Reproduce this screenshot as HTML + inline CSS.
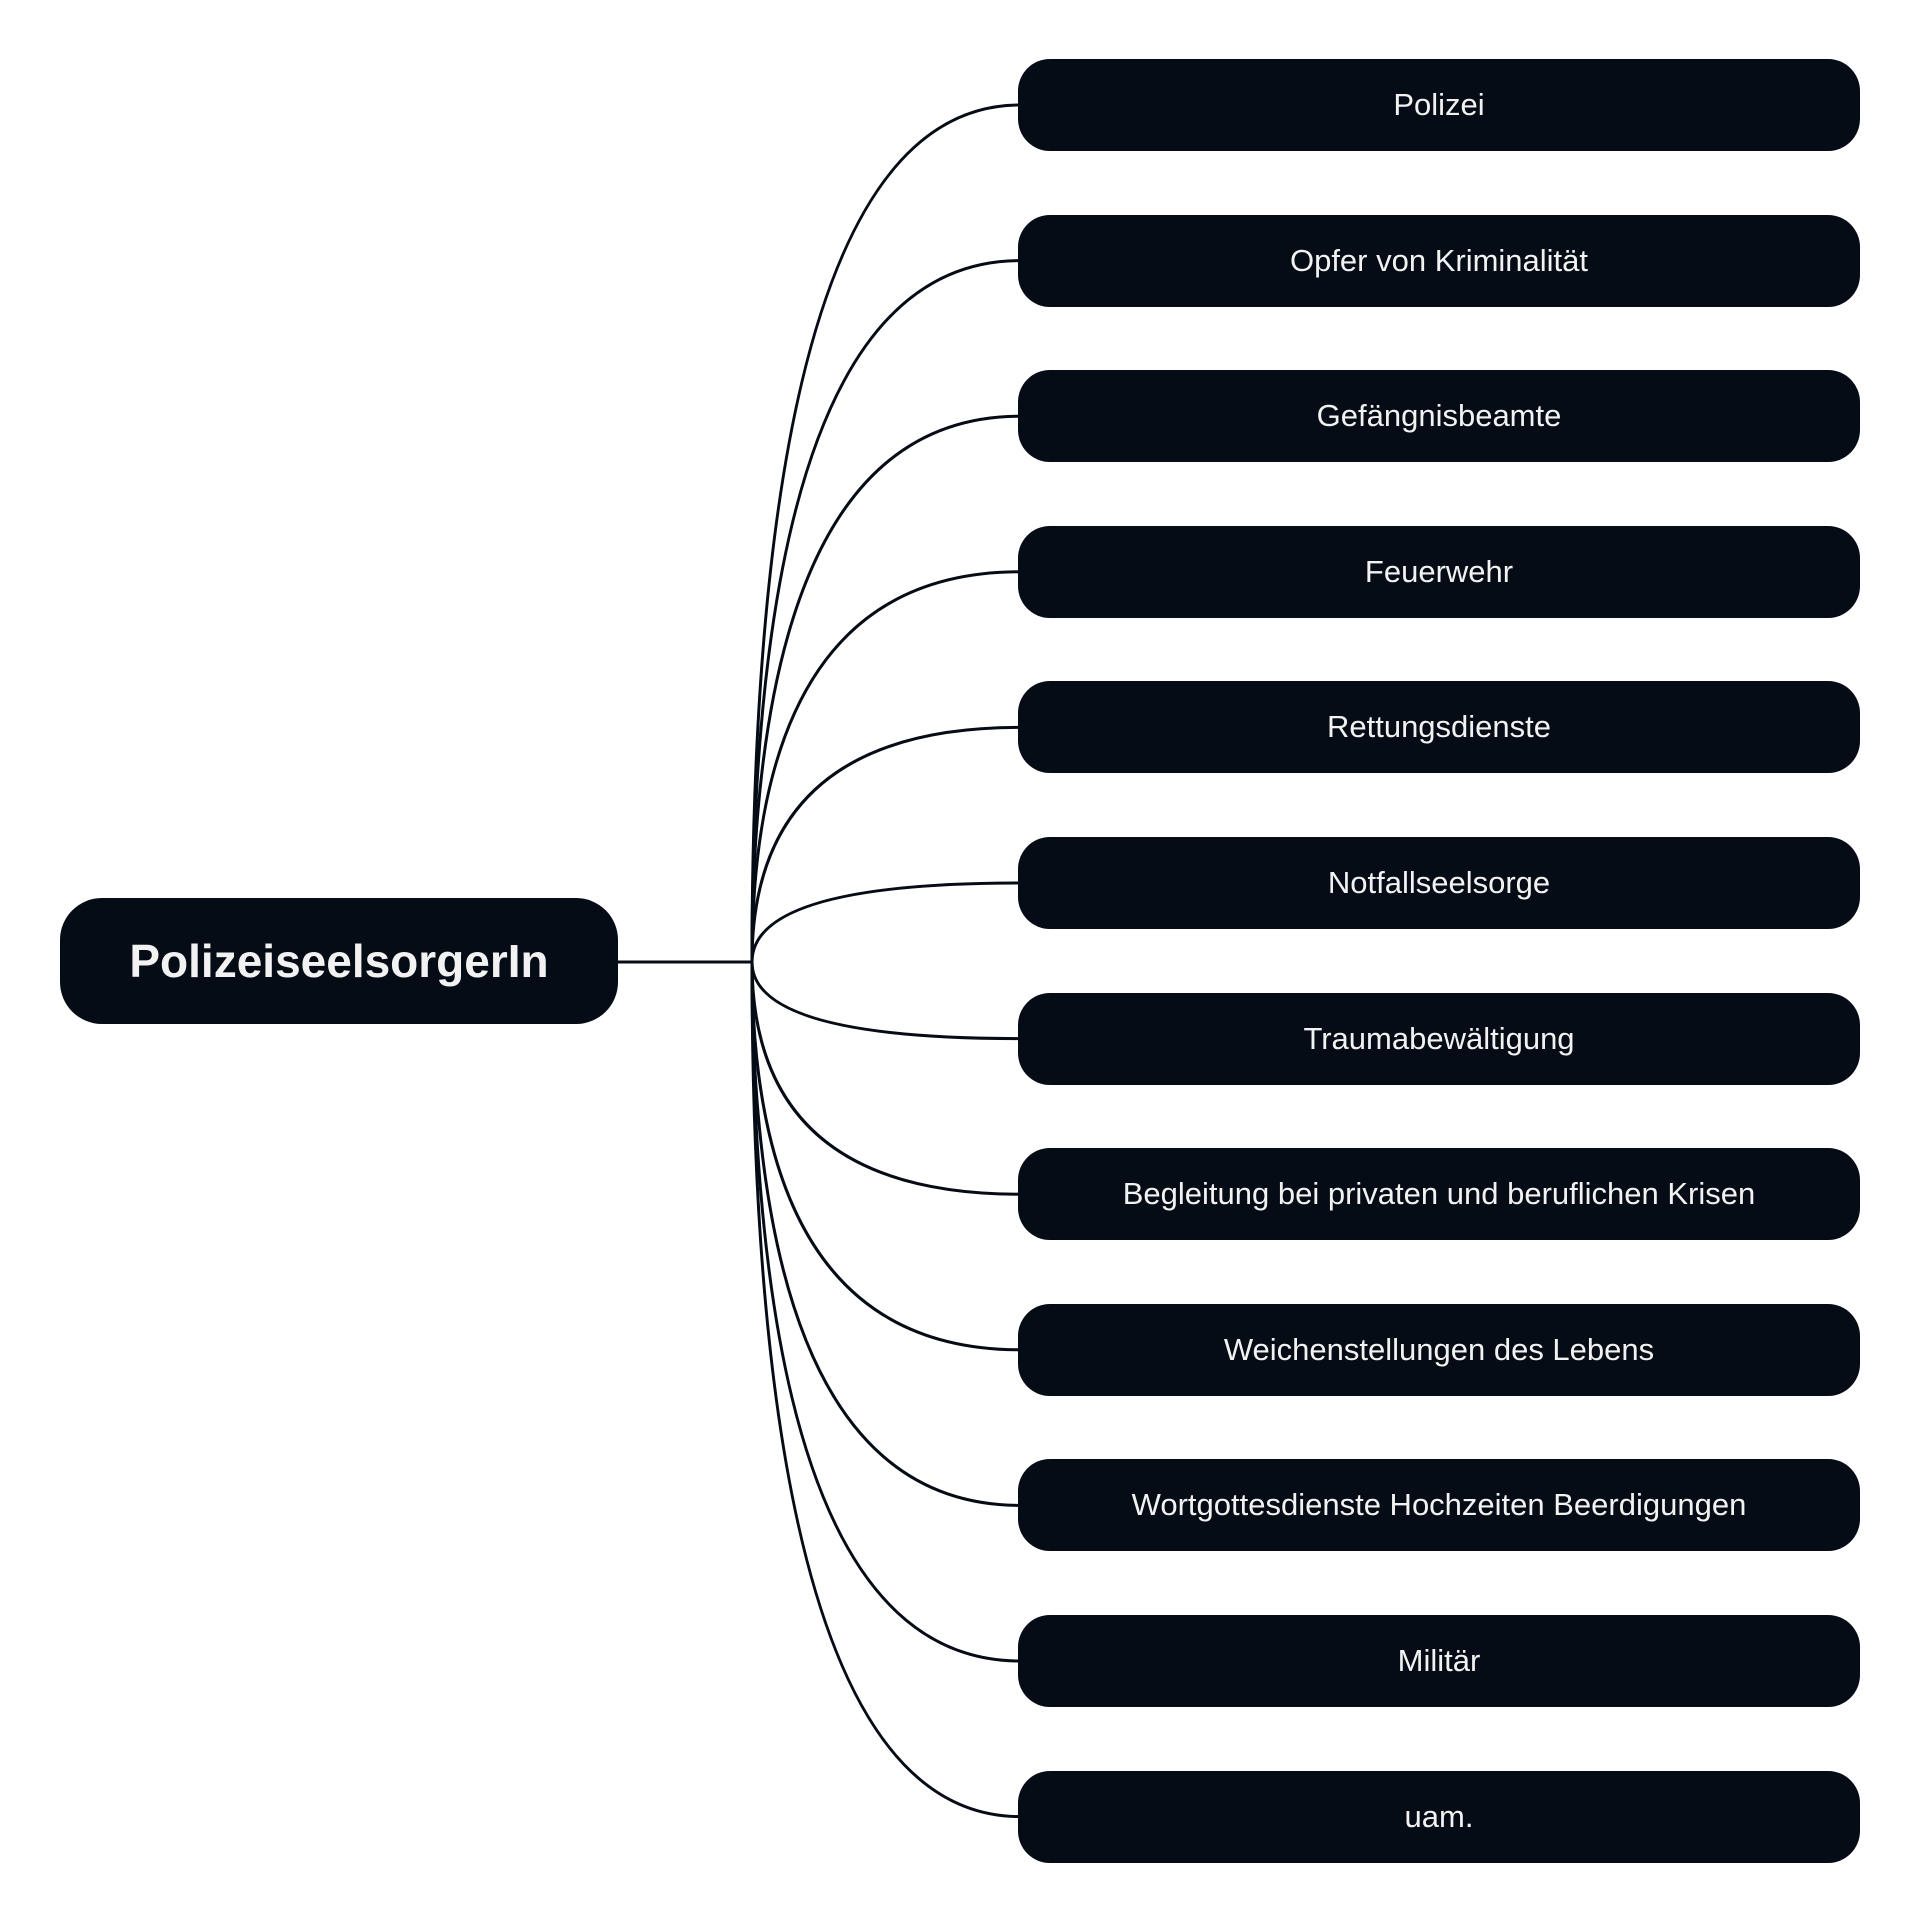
<!DOCTYPE html>
<html><head><meta charset="utf-8"><style>
html,body{margin:0;padding:0;background:#fff;}
body{width:1920px;height:1922px;position:relative;overflow:hidden;font-family:"Liberation Sans",sans-serif;}
.b{position:absolute;background:#050c16;color:#f2f2f2;display:flex;align-items:center;justify-content:center;}
.c{left:1018px;width:842px;height:92px;border-radius:32px;font-size:31px;}
.m{left:60px;top:898px;width:558px;height:126px;border-radius:42px;font-size:46px;font-weight:bold;}
svg{position:absolute;left:0;top:0;}
</style></head><body>
<svg width="1920" height="1922" id="s"></svg>
<div class="b m">PolizeiseelsorgerIn</div>
<div id="k"></div>
<script>
var t=["Polizei","Opfer von Kriminalität","Gefängnisbeamte","Feuerwehr","Rettungsdienste","Notfallseelsorge","Traumabewältigung","Begleitung bei privaten und beruflichen Krisen","Weichenstellungen des Lebens","Wortgottesdienste Hochzeiten Beerdigungen","Militär","uam."];
var s='<line x1="618" y1="962" x2="752" y2="962" stroke="#050c16" stroke-width="3"/>',h='';
for(var i=0;i<12;i++){var cy=105+i*155.6;
s+='<path d="M752 962 Q752 '+cy+' 1020 '+cy+'" fill="none" stroke="#050c16" stroke-width="3"/>';
h+='<div class="b c" style="top:'+(cy-46)+'px">'+t[i]+'</div>';}
document.getElementById('s').innerHTML=s;document.getElementById('k').innerHTML=h;
</script>
</body></html>
